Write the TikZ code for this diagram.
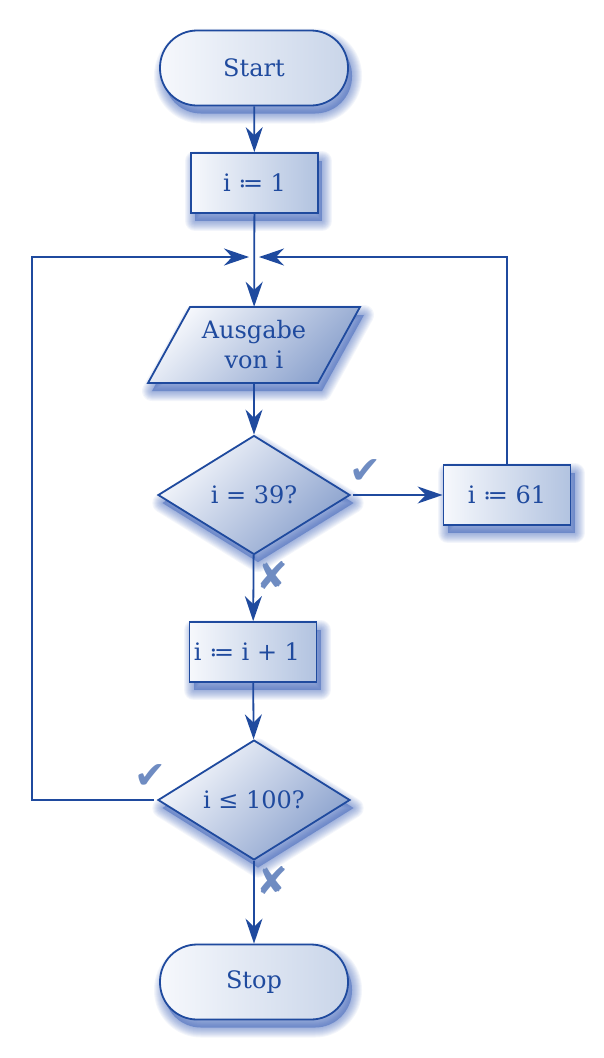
\documentclass[tikz,border=0pt]{standalone}
\usepackage{fontspec}
\setmainfont{DejaVu Serif}
\newfontfamily\markfont{DejaVu Sans}
\usetikzlibrary{shapes.geometric,arrows.meta}
\definecolor{fb}{HTML}{1F4A9E}
\definecolor{mk}{HTML}{6F8CC2}
\definecolor{lt}{HTML}{F6F8FC}
\definecolor{dkA}{HTML}{C9D5E9}
\definecolor{dkB}{HTML}{B2C3E0}
\definecolor{dkC}{HTML}{8AA1CD}
\definecolor{shc}{HTML}{2A52B0}
\tikzset{
  shl/.style={preaction={fill=shc, draw=shc, line join=round, line width=#1, opacity=0.055,
      transform canvas={xshift=4pt, yshift=-8pt}}},
  bsh/.style={shl=20pt, shl=18pt, shl=16pt, shl=14pt, shl=12pt, shl=10pt, shl=8pt, shl=6pt, shl=4pt, shl=2pt},
  base/.style={bsh, draw=fb, line width=1.8pt, text=fb, font=\fontsize{24}{30}\selectfont},
  term/.style={base, rectangle, rounded corners=37pt, minimum width=188pt, minimum height=75pt,
    left color=lt, right color=dkA},
  proc/.style={base, rectangle, minimum width=127pt, minimum height=60pt, inner sep=0pt,
    left color=lt, right color=dkB},
  io/.style={base, top color=lt, bottom color=dkC, shading angle=45},
  iotext/.style={text=fb, font=\fontsize{24}{30}\selectfont, align=center,
    minimum width=170pt, minimum height=76pt, inner sep=0pt},
  dec/.style={base, diamond, minimum width=192pt, minimum height=119pt, inner sep=0pt,
    top color=lt, bottom color=dkC, shading angle=45},
  arr/.style={draw=fb, line width=1.8pt, -{Stealth[length=25pt, width=17pt]}},
  ticklbl/.style={text=mk, font=\markfont\fontsize{38}{38}\selectfont, inner sep=0pt}
}
\begin{document}
\begin{tikzpicture}[x=1pt,y=-1pt]
\useasboundingbox (0,0) rectangle (604,1058);
\node[term] (start) at (254,68) {Start};
\node[proc] (i1) at (254.5,183) {i ≔ 1};
\path[io] (190,307) -- (360,307) -- (318,383) -- (148,383) -- cycle;
\node[iotext] (aus) at (254,345) {Ausgabe\\von i};
\node[dec] (d1) at (254,495) {i = 39?};
\node[proc] (i61) at (507,495) {i ≔ 61};
\node[proc] (inc) at (253,652) {i ≔ i + 1\hspace*{12pt}};
\node[dec] (d2) at (254,800) {i ≤ 100?};
\node[term] (stop) at (254,982) {Stop};
\coordinate (mergeL) at (249,257);
\coordinate (mergeR) at (259,257);
\coordinate (cornerL) at (32,800);
\node[ticklbl] (c1) at (365,472) {✔};
\node[ticklbl] (x1) at (272,575) {✘};
\node[ticklbl] (c2) at (150,777) {✔};
\node[ticklbl] (x2) at (272,880) {✘};
\draw[arr] (start) -- (i1);
\draw[arr] (i1) -- (aus);
\draw[arr] (aus) -- (d1);
\draw[arr, shorten <=2pt] (d1.east) -- (i61.west);
\draw[arr] (d1) -- (inc);
\draw[arr] (inc) -- (d2);
\draw[arr] (d2) -- (stop);
\draw[arr, shorten <=3pt] (d2.west) -- (cornerL) |- (mergeL);
\draw[arr] (i61.north) |- (mergeR);
\end{tikzpicture}
\end{document}
